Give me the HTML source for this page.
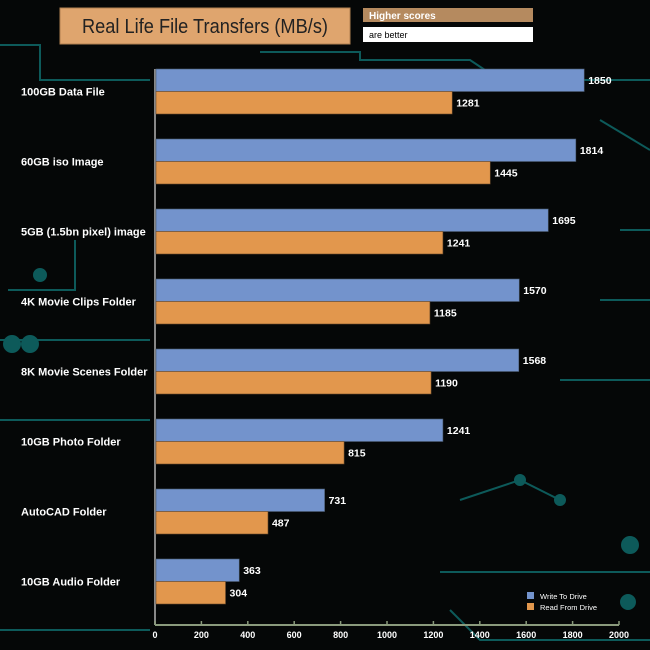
<!DOCTYPE html>
<html><head><meta charset="utf-8"><style>
body{margin:0;background:#050707;}
svg{display:block;font-family:"Liberation Sans",Arial,sans-serif;}
</style></head><body>
<svg id="c" width="650" height="650" viewBox="0 0 650 650">
<rect width="650" height="650" fill="#050707"/>
<g stroke="#0d5a5a" stroke-width="2" fill="none">
<path d="M0 45 H40 V80 H150"/><path d="M260 52 H360 V60 H470 L500 80 H650"/>
<path d="M8 290 H75 V240"/><circle cx="40" cy="275" r="6" fill="#0d5a5a"/>
<path d="M0 340 H150"/><path d="M0 420 H150"/><circle cx="12" cy="344" r="8" fill="#0d5a5a"/><circle cx="30" cy="344" r="8" fill="#0d5a5a"/>
<path d="M620 230 H650"/><path d="M560 380 H650"/><path d="M440 572 H650"/>
<circle cx="630" cy="545" r="8" fill="#0d5a5a"/><circle cx="628" cy="602" r="7" fill="#0d5a5a"/>
<path d="M460 500 L520 480 L560 500"/><circle cx="520" cy="480" r="5" fill="#0d5a5a"/><circle cx="560" cy="500" r="5" fill="#0d5a5a"/>
<path d="M600 120 L650 150"/><path d="M600 300 H650"/>
<path d="M450 610 L480 640 H650"/><path d="M0 630 H150"/>
</g>
<rect x="60" y="8" width="290" height="36" fill="#dfa56e" stroke="#b08050"/>
<text x="205" y="33" text-anchor="middle" font-size="20" fill="#222" textLength="246" lengthAdjust="spacingAndGlyphs">Real Life File Transfers (MB/s)</text>
<rect x="363" y="8" width="170" height="14" fill="#b58a5f"/>
<text x="369" y="19" font-size="10" font-weight="bold" fill="#fff">Higher scores</text>
<rect x="363" y="27" width="170" height="15" fill="#fff"/>
<text x="369" y="38" font-size="9" fill="#000">are better</text>
<g id="plot"></g>
<g>
<rect x="527" y="592" width="7" height="7" fill="#7393cc"/>
<text x="540" y="599" font-size="7.5" fill="#fff">Write To  Drive</text>
<rect x="527" y="603" width="7" height="7" fill="#e2974d"/>
<text x="540" y="610" font-size="7.5" fill="#fff">Read From  Drive</text>
</g>
</svg>
<script>
const categories=["100GB Data File","60GB iso Image","5GB (1.5bn pixel) image","4K Movie Clips Folder","8K Movie Scenes Folder","10GB Photo Folder","AutoCAD Folder","10GB Audio Folder"];
const writeValues=[1850,1814,1695,1570,1568,1241,731,363];
const readValues=[1281,1445,1241,1185,1190,815,487,304];
const xTicks=[0,200,400,600,800,1000,1200,1400,1600,1800,2000];
const NS="http://www.w3.org/2000/svg";
const g=document.getElementById('plot');
const x0=155,x1=619,top0=69,pitch=70,bh=22.5,axisY=625;
const xs=v=>x0+(v/2000)*(x1-x0);
function mk(t,a,txt){const e=document.createElementNS(NS,t);for(const k in a)e.setAttribute(k,a[k]);if(txt!=null)e.textContent=txt;g.appendChild(e);return e;}
let e=mk('line',{x1:x0,y1:top0,x2:x0,y2:axisY,stroke:'#888',"stroke-width":2});


e=mk('line',{x1:x0,y1:axisY,x2:x1,y2:axisY,stroke:'#8a9a7c',"stroke-width":2});


xTicks.forEach(t=>{
 const tk=mk('line',{x1:xs(t),y1:axisY-4,x2:xs(t),y2:axisY,stroke:'#8a9a7c',"stroke-width":1.5});
 
 
 const l=mk('text',{x:xs(t),y:axisY+13,"text-anchor":"middle","font-size":9,"font-weight":"bold",fill:"#fff"},t);
 
 
});
categories.forEach((c,i)=>{
 const y=top0+i*pitch;
 const l=mk('text',{x:21,y:y+bh+4,"font-size":11,"font-weight":"bold",fill:"#fff"},c);
 
 
 const b1=mk('rect',{x:x0+1,y:y,width:xs(writeValues[i])-x0-1,height:bh,fill:'#7393cc',stroke:'#4a5a70',"stroke-width":0.6});
 
 
 const t1=mk('text',{x:xs(writeValues[i])+4,y:y+15,"font-size":10.5,"font-weight":"bold",fill:"#fff"},writeValues[i]);
 
 
 const b2=mk('rect',{x:x0+1,y:y+bh,width:xs(readValues[i])-x0-1,height:bh,fill:'#e2974d',stroke:'#6a4a2a',"stroke-width":0.6});
 
 
 const t2=mk('text',{x:xs(readValues[i])+4,y:y+bh+15,"font-size":10.5,"font-weight":"bold",fill:"#fff"},readValues[i]);
 
 
});
</script>
</body></html>
